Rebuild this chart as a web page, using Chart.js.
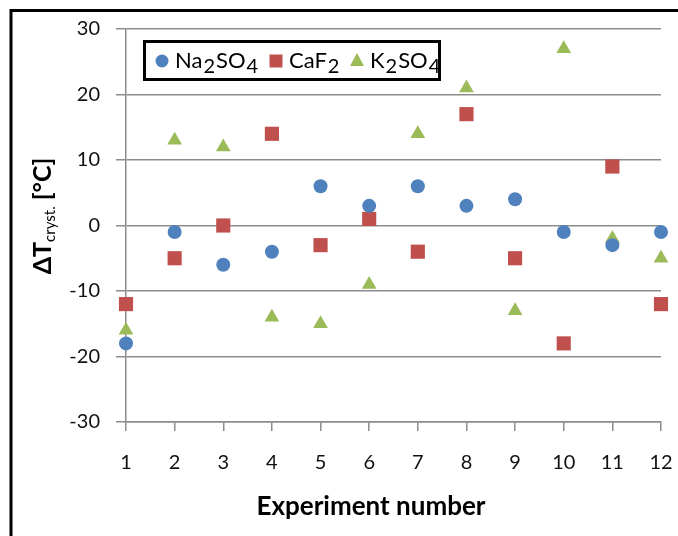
<!DOCTYPE html>
<html>
<head>
<meta charset="utf-8">
<script src="https://cdn.jsdelivr.net/npm/chart.js@4.4.1/dist/chart.umd.min.js"></script>
<style>
  html, body { margin: 0; padding: 0; background: #fff; overflow: hidden; }
  #box { position: absolute; left: 0; top: 0; width: 678px; height: 536px; }
</style>
</head>
<body>
<div id="box"><canvas id="scatterChart" width="678" height="536"></canvas></div>
<script>
// data
const experiments = [1, 2, 3, 4, 5, 6, 7, 8, 9, 10, 11, 12];
const na2so4 = [-18, -1, -6, -4, 6, 3, 6, 3, 4, -1, -3, -1];
const caf2 = [-12, -5, 0, 14, -3, 1, -4, 17, -5, -18, 9, -12];
const k2so4 = [-16, 13, 12, -14, -15, -9, 14, 21, -13, 27, -2, -5];
const yTicks = [-30, -20, -10, 0, 10, 20, 30];

const BLUE = '#4F81BD';
const RED = '#C0504D';
const GREEN = '#9BBB59';
const GRID = '#8c8c8c';
const FONT = 'Lato, "Open Sans", sans-serif';

const points = function(vals) {
  return experiments.map((x, i) => ({ x: x, y: vals[i] }));
}

// legend entries; the parts alternate normal text / subscript
const legendItems = [
  { parts: ['Na', '2', 'SO', '4'], color: BLUE, style: 'circle', x: 162 },
  { parts: ['CaF', '2'], color: RED, style: 'rect', x: 276 },
  { parts: ['K', '2', 'SO', '4'], color: GREEN, style: 'triangle', x: 357 }
];

const extras = {
  id: 'extras',
  afterDraw(chart) {
    const ctx = chart.ctx;
    ctx.save();

    // outer frame (left and top edge only are in view)
    ctx.strokeStyle = '#000';
    ctx.lineWidth = 3;
    ctx.beginPath();
    ctx.moveTo(11, 536);
    ctx.lineTo(11, 10.5);
    ctx.lineTo(678, 10.5);
    ctx.stroke();

    // legend box
    ctx.fillStyle = '#fff';
    ctx.fillRect(143, 40, 298, 41);
    ctx.lineWidth = 3;
    ctx.strokeRect(144.5, 41.5, 295, 38);

    legendItems.forEach(item => {
      const cy = 61;
      ctx.fillStyle = item.color;
      ctx.beginPath();
      if (item.style === 'circle') {
        ctx.arc(item.x, cy, 6.5, 0, Math.PI * 2);
      } else if (item.style === 'rect') {
        ctx.rect(item.x - 6.5, cy - 6.5, 13, 13);
      } else {
        ctx.moveTo(item.x, cy - 8);
        ctx.lineTo(item.x + 7, cy + 5);
        ctx.lineTo(item.x - 7, cy + 5);
        ctx.closePath();
      }
      ctx.fill();

      let tx = item.x + 13;
      ctx.fillStyle = '#000';
      ctx.textAlign = 'left';
      ctx.textBaseline = 'alphabetic';
      item.parts.forEach((p, i) => {
        const sub = i % 2 === 1;
        ctx.font = (sub ? '20px ' : '22px ') + FONT;
        ctx.fillText(p, tx, sub ? 73 : 68);
        tx += ctx.measureText(p).width + 1;
      });
    });

    // x axis title
    ctx.fillStyle = '#000';
    ctx.font = 'bold 26px ' + FONT;
    ctx.textAlign = 'center';
    ctx.textBaseline = 'middle';
    ctx.fillText('Experiment number', 371, 507);

    // y axis title with subscript
    ctx.translate(42, 216);
    ctx.rotate(-Math.PI / 2);
    const yParts = [
      { t: 'ΔT', f: 'bold 25px ' + FONT, dy: 0 },
      { t: 'cryst.', f: '15px ' + FONT, dy: 4 },
      { t: ' [°C]', f: 'bold 25px ' + FONT, dy: 0 }
    ];
    let total = 0;
    yParts.forEach(p => { ctx.font = p.f; p.w = ctx.measureText(p.t).width; total += p.w; });
    let px = -total / 2;
    ctx.textAlign = 'left';
    ctx.textBaseline = 'alphabetic';
    yParts.forEach(p => {
      ctx.font = p.f;
      ctx.fillText(p.t, px, 9 + p.dy);
      px += p.w;
    });

    ctx.restore();
  }
};

const mkSet = function(label, vals, color, style, radius) {
  return {
    label: label,
    data: points(vals),
    pointStyle: style,
    pointRadius: radius,
    pointHoverRadius: radius,
    backgroundColor: color,
    borderColor: color,
    borderWidth: 0,
    clip: false
  };
}

new Chart(document.getElementById('scatterChart').getContext('2d'), {
  type: 'scatter',
  data: {
    datasets: [
      mkSet('Na₂SO₄', na2so4, BLUE, 'circle', 7),
      mkSet('CaF₂', caf2, RED, 'rect', 10),
      mkSet('K₂SO₄', k2so4, GREEN, 'triangle', 8.5)
    ]
  },
  options: {
    responsive: false,
    animation: false,
    layout: { padding: { left: 0, right: 17, top: 29, bottom: 0 } },
    plugins: {
      legend: { display: false },
      tooltip: { enabled: false }
    },
    scales: {
      x: {
        type: 'linear',
        min: 1,
        max: 12,
        afterFit: s => { s.height = 114; s.paddingLeft = 0; s.paddingRight = 0; },
        ticks: {
          stepSize: 1,
          color: '#111',
          padding: 20,
          font: { family: FONT, size: 20 }
        },
        grid: { drawOnChartArea: false, tickLength: 9, color: GRID, lineWidth: 1.5 },
        border: { color: GRID, width: 1.5 }
      },
      y: {
        min: -30,
        max: 30,
        afterFit: s => { s.width = 126; s.paddingTop = 0; s.paddingBottom = 0; },
        afterBuildTicks: s => { s.ticks = yTicks.map(v => ({ value: v })); },
        ticks: {
          color: '#111',
          padding: 16,
          font: { family: FONT, size: 20 }
        },
        grid: { color: GRID, lineWidth: 1.5, tickLength: 10 },
        border: { color: GRID, width: 1.5 }
      }
    }
  },
  plugins: [extras]
});
</script>
</body>
</html>
